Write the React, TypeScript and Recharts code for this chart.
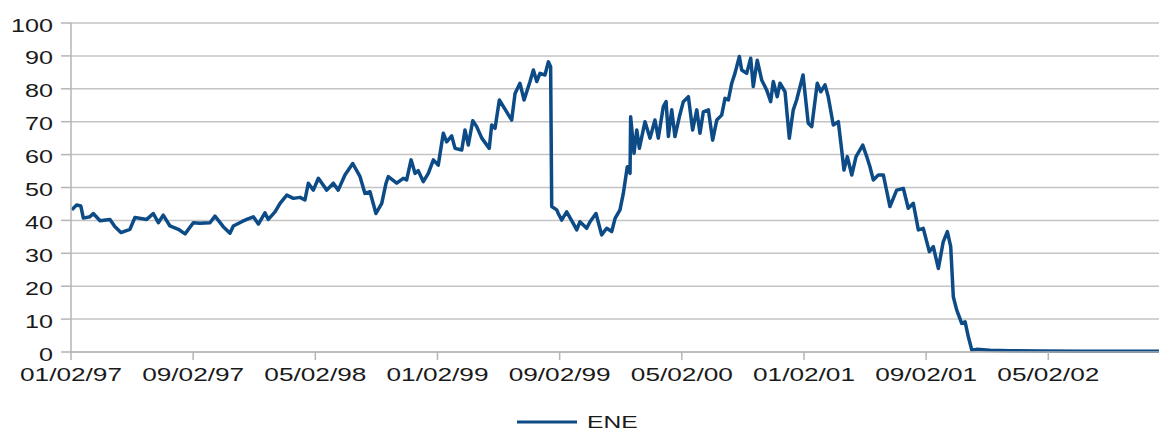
import React from 'react';
import { LineChart, Line, XAxis, YAxis, CartesianGrid, Legend } from 'recharts';

// months since 01/02/97
const months = [
  0.05, 0.37, 0.64, 0.81, 1.24, 1.46, 1.9, 2.55, 2.88, 3.27, 3.86, 4.19, 4.96, 5.39, 5.72, 6.04,
  6.48, 7.03, 7.47, 8.01, 8.45, 9.1, 9.43, 9.97, 10.41, 10.63, 11.18, 11.51, 11.94, 12.27, 12.7,
  12.92, 13.36, 13.69, 14.13, 14.56, 15.0, 15.32, 15.54, 15.87, 16.2, 16.75, 17.18, 17.5, 17.94,
  18.45, 18.93, 19.25, 19.58, 19.97, 20.35, 20.63, 20.78, 21.33, 21.76, 21.98, 22.27, 22.53, 22.74,
  23.07, 23.4, 23.73, 24.05, 24.38, 24.6, 24.93, 25.15, 25.59, 25.8, 26.02, 26.31, 26.57, 26.9,
  27.39, 27.55, 27.77, 28.05, 28.53, 28.86, 29.08, 29.4, 29.67, 30.06, 30.28, 30.5, 30.71, 31.04,
  31.26, 31.41, 31.48, 31.81, 31.91, 32.13, 32.46, 32.89, 33.12, 33.33, 33.77, 33.99, 34.38, 34.75,
  35.08, 35.41, 35.63, 35.95, 36.17, 36.43, 36.61, 36.65, 36.87, 37.05, 37.22, 37.59, 37.92, 38.24,
  38.46, 38.79, 38.97, 39.12, 39.34, 39.55, 39.84, 40.1, 40.43, 40.71, 40.98, 41.19, 41.41, 41.74,
  42.02, 42.29, 42.61, 42.83, 43.05, 43.27, 43.48, 43.77, 43.92, 44.25, 44.51, 44.68, 44.94, 45.23,
  45.56, 45.82, 45.99, 46.25, 46.43, 46.76, 47.04, 47.3, 47.52, 47.94, 48.28, 48.51, 48.87, 49.1,
  49.38, 49.59, 49.92, 50.25, 50.47, 50.62, 50.84, 51.13, 51.41, 51.85, 52.11, 52.32, 52.54, 52.87,
  53.2, 53.63, 54.07, 54.51, 54.83, 55.16, 55.49, 55.81, 56.21, 56.47, 56.8, 57.12, 57.39, 57.61,
  57.78, 58.0, 58.33, 58.55, 58.76, 58.99, 59.31, 60.18, 61.49, 63.46, 66.08, 68.7, 71.25,
];

const ene = [
  43.2, 44.7, 44.4, 40.7, 41.1, 42.1, 39.9, 40.3, 38.1, 36.3, 37.3, 40.9, 40.3, 42.1, 39.3, 41.6,
  38.3, 37.3, 35.9, 39.3, 39.1, 39.3, 41.3, 38.1, 36.1, 38.3, 39.6, 40.3, 41.1, 38.9, 42.3,
  40.3, 42.6, 45.2, 47.7, 46.7, 47.0, 46.2, 51.3, 49.2, 52.8, 49.2, 51.3, 49.2, 53.8,
  57.3, 53.3, 48.2, 48.7, 42.1, 45.2, 51.3, 53.3, 51.3, 52.8, 52.3, 58.4, 54.3, 55.1,
  51.8, 54.3, 58.4, 56.8, 66.5, 63.9, 65.7, 61.9, 61.4, 67.5, 62.9, 70.3, 68.5, 65.0,
  61.9, 69.0, 68.0, 76.6, 73.0, 70.5, 78.6, 81.7, 76.6, 82.2, 85.7, 82.2, 84.7, 84.2,
  88.2, 86.7, 44.2, 43.2, 42.1, 40.1, 42.6, 39.1, 37.1, 39.6, 37.6, 39.6, 42.1, 35.6,
  37.6, 36.6, 40.6, 43.2, 48.2, 56.3, 54.3, 71.5, 60.4, 67.5, 61.9, 70.0, 65.0, 70.5,
  65.0, 74.6, 76.1, 65.5, 73.6, 65.5, 71.5, 76.1, 77.6, 67.5, 73.6, 66.5, 73.0, 73.6,
  64.4, 70.5, 72.0, 77.1, 76.6, 81.7, 84.7, 89.8, 85.7, 84.7, 89.3, 80.7, 88.7, 82.7,
  79.6, 76.1, 82.2, 77.6, 81.7, 79.1, 65.0, 73.6, 76.6, 84.2, 69.5, 68.5, 81.7, 79.1,
  81.2, 77.6, 69.0, 70.0, 61.4, 55.3, 59.4, 53.8, 59.4, 62.9, 59.4, 56.3, 52.3, 53.8,
  53.8, 44.2, 49.2, 49.7, 43.7, 45.2, 37.1, 37.6, 30.5, 32.0, 25.4, 33.5, 36.6, 32.0,
  16.8, 12.8, 8.7, 9.2, 4.7, 0.6, 0.8, 0.5, 0.4, 0.3, 0.25, 0.2, 0.2,
];

const tickMonths = [0, 8, 16, 24, 32, 40, 48, 56, 64];
const tickLabels = ['01/02/97', '09/02/97', '05/02/98', '01/02/99', '09/02/99', '05/02/00', '01/02/01', '09/02/01', '05/02/02'];
const yTicks = [0, 10, 20, 30, 40, 50, 60, 70, 80, 90, 100];

const data = months.map((m, i) => ({ m, ene: ene[i] }));

const LINE = '#0d4b86';
const GRID = '#c4c4c4';
const FONT = '"Liberation Sans", Arial, sans-serif';

const XTick = (props: any) => {
  const { x, y, payload } = props;
  const i = tickMonths.indexOf(payload.value);
  return (
    <g transform={`translate(${x},${y}) scale(1.38,1)`}>
      <text x={0} y={19} textAnchor="middle" fontFamily={FONT} fontSize={19} fill="#1a1a1a">
        {tickLabels[i]}
      </text>
    </g>
  );
};

const YTick = (props: any) => {
  const { x, y, payload } = props;
  return (
    <g transform={`translate(${x},${y}) scale(1.4,1)`}>
      <text x={0} y={8.5} textAnchor="end" fontFamily={FONT} fontSize={18} fill="#1a1a1a">
        {payload.value}
      </text>
    </g>
  );
};

const LegendBox = () => (
  <svg width={1159} height={20} style={{ display: 'block', overflow: 'visible' }}>
    <line x1={517} x2={577} y1={14} y2={14} stroke={LINE} strokeWidth={3} />
    <g transform="translate(587,19.5) scale(1.45,1)">
      <text x={0} y={0} fontFamily={FONT} fontSize={17} fill="#1a1a1a">ENE</text>
    </g>
  </svg>
);

export default function App() {
  return (
    <div style={{ position: 'absolute', left: 0, top: 0, width: 1159, height: 429 }}>
      <LineChart width={1159} height={429} data={data} margin={{ top: 23, right: 0, left: 0, bottom: 0 }}>
        <CartesianGrid vertical={false} stroke={GRID} strokeWidth={1.5} />
        <XAxis
          dataKey="m"
          type="number"
          domain={[0, 71.25]}
          ticks={tickMonths}
          interval={0}
          height={77}
          tickSize={8}
          tickMargin={2}
          stroke="#b5b5b5"
          strokeWidth={1.5}
          tick={<XTick />}
          allowDataOverflow
        />
        <YAxis
          domain={[0, 100]}
          ticks={yTicks}
          interval={0}
          width={71}
          tickSize={10}
          tickMargin={8}
          stroke="#b5b5b5"
          strokeWidth={1.5}
          tick={<YTick />}
        />
        <Legend
          verticalAlign="middle"
          layout="horizontal"
          wrapperStyle={{ top: 408, left: 0, width: 1159 }}
          content={<LegendBox />}
        />
        <Line
          type="linear"
          dataKey="ene"
          name="ENE"
          stroke={LINE}
          strokeWidth={3.5}
          strokeLinejoin="round"
          dot={false}
          isAnimationActive={false}
        />
      </LineChart>
    </div>
  );
}
